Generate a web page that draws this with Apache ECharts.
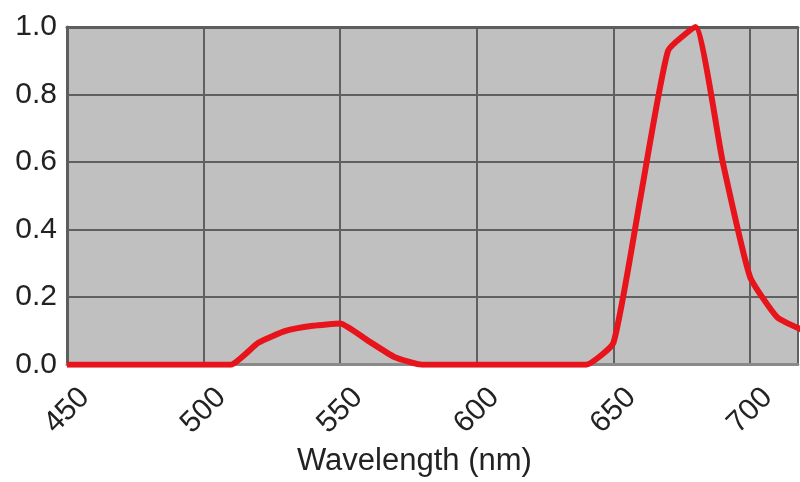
<!DOCTYPE html>
<html>
<head>
<meta charset="utf-8">
<script src="https://cdn.jsdelivr.net/npm/echarts@6/dist/echarts.min.js"></script>
<style>
html,body{margin:0;padding:0;background:#fff;}
#chart{width:800px;height:482px;}
</style>
</head>
<body>
<div id="chart"></div>
<script>
// Wavelength samples (nm)
var wavelengths = [450,460,470,480,490,500,510,520,530,540,550,560,570,580,590,600,610,620,630,640,650,660,670,680,690,700,710,720];
// Relative response values
var response = [0,0,0,0,0,0,0,0.065,0.10,0.115,0.122,0.072,0.022,0,0,0,0,0,0,0,0.065,0.50,0.93,1.0,0.60,0.26,0.14,0.10];
// Tick labels
var xTicks = [450,500,550,600,650,700];
var yTicks = [0.0,0.2,0.4,0.6,0.8,1.0];

var chart = echarts.init(document.getElementById('chart'), null, {renderer:'canvas'});
var font = 'Liberation Sans, Arial, sans-serif';
var data = wavelengths.map(function(w,i){return [w, response[i]];});
var xMin = 450, xMax = 717.5;

chart.setOption({
  animation:false,
  backgroundColor:'#ffffff',
  grid:{left:67,right:0,top:27,bottom:112,show:true,backgroundColor:'#c0c0c0',borderWidth:0},
  xAxis:[{
    type:'value',min:xMin,max:xMax,interval:50,
    name:'Wavelength (nm)',nameLocation:'middle',nameGap:65,
    nameTextStyle:{fontFamily:font,fontSize:31,color:'#222',padding:[0,36,0,0]},
    axisLine:{show:true,lineStyle:{color:'#8a8a8a',width:3}},
    axisTick:{show:false},
    splitLine:{show:true,lineStyle:{color:'#606060',width:2}},
    axisLabel:{
      rotate:45,align:'center',verticalAlign:'middle',margin:46,
      fontFamily:font,fontSize:30,color:'#222',
      formatter:function(v){return xTicks.indexOf(v)>=0?String(v):'';}
    }
  },{
    type:'value',position:'top',min:xMin,max:xMax,interval:50,
    axisLine:{show:true,onZero:false,lineStyle:{color:'#5e5e5e',width:3}},
    axisTick:{show:false},axisLabel:{show:false},splitLine:{show:false}
  }],
  yAxis:{
    type:'value',min:0,max:1,interval:0.2,
    axisLine:{show:true,onZero:false,lineStyle:{color:'#5e5e5e',width:3}},
    axisTick:{show:false},
    splitLine:{show:true,lineStyle:{color:'#606060',width:2}},
    axisLabel:{
      margin:10,fontFamily:font,fontSize:30,color:'#222',
      formatter:function(v){
        for(var i=0;i<yTicks.length;i++){if(Math.abs(yTicks[i]-v)<1e-9)return yTicks[i].toFixed(1);}
        return '';
      }
    }
  },
  series:[{
    type:'line',data:data,showSymbol:false,smooth:0.15,
    lineStyle:{color:'#e8141c',width:6},
    itemStyle:{color:'#e8141c'}
  }]
});
</script>
</body>
</html>
